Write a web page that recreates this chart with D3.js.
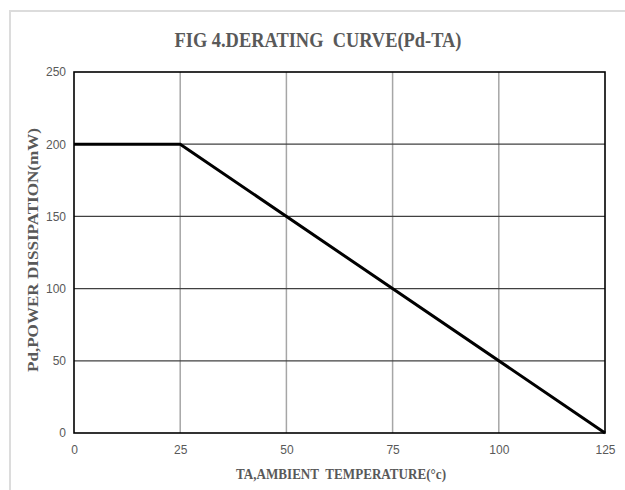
<!DOCTYPE html>
<html>
<head>
<meta charset="utf-8">
<script src="https://cdn.jsdelivr.net/npm/d3@7"></script>
<style>
  body { margin: 0; background: #fff; }
  svg { display: block; }
</style>
</head>
<body>
<svg id="chart" width="625" height="490"></svg>
<script>
// Derating curve: power dissipation vs ambient temperature
var temps  = [0, 25, 125];
var power  = [200, 200, 0];
var xTicks = [0, 25, 50, 75, 100, 125];
var yTicks = [0, 50, 100, 150, 200, 250];

var titleText  = "FIG 4.DERATING\u00a0 CURVE(Pd-TA)";
var xLabelText = "TA,AMBIENT\u00a0 TEMPERATURE(\u00b0c)";
var yLabelText = "Pd,POWER DISSIPATION(mW)";

var svg = d3.select("#chart");
// plot box ("top" is taken by window.top, so prefix these)
var plotLeft = 74, plotRight = 605, plotTop = 72, plotBottom = 433;

var x = d3.scaleLinear().domain([0, 125]).range([plotLeft, plotRight]);
var y = d3.scaleLinear().domain([0, 250]).range([plotBottom, plotTop]);

// light frame around the picture
svg.append("path")
   .attr("d", "M10,490 V11 H625")
   .attr("fill", "none")
   .attr("stroke", "#dcdcdc")
   .attr("stroke-width", 2);

// vertical grid
svg.append("g").selectAll("line")
   .data(xTicks.slice(1, -1))
   .join("line")
   .attr("x1", function (d) { return x(d); })
   .attr("x2", function (d) { return x(d); })
   .attr("y1", plotTop).attr("y2", plotBottom)
   .attr("stroke", "#a6a6a6")
   .attr("stroke-width", 1.5);

// horizontal grid
svg.append("g").selectAll("line")
   .data(yTicks.slice(1, -1))
   .join("line")
   .attr("x1", plotLeft).attr("x2", plotRight)
   .attr("y1", function (d) { return y(d); })
   .attr("y2", function (d) { return y(d); })
   .attr("stroke", "#404040")
   .attr("stroke-width", 1.2);

// plot border
svg.append("rect")
   .attr("x", plotLeft).attr("y", plotTop)
   .attr("width", plotRight - plotLeft).attr("height", plotBottom - plotTop)
   .attr("fill", "none")
   .attr("stroke", "#000")
   .attr("stroke-width", 1.6);

// axes (labels only)
var xAxis = svg.append("g")
   .attr("transform", "translate(0," + plotBottom + ")")
   .call(d3.axisBottom(x).tickValues(xTicks).tickSize(0).tickPadding(12));
var yAxis = svg.append("g")
   .attr("transform", "translate(" + plotLeft + ",0)")
   .call(d3.axisLeft(y).tickValues(yTicks).tickSize(0).tickPadding(8));

[xAxis, yAxis].forEach(function (a) {
  a.select(".domain").remove();
  a.selectAll("text")
   .attr("fill", "#595959")
   .style("font-family", "'Liberation Sans', Arial, sans-serif")
   .style("font-size", "12px");
});

// the curve
var line = d3.line()
   .x(function (d, i) { return x(temps[i]); })
   .y(function (d) { return y(d); });

svg.append("path")
   .datum(power)
   .attr("d", line)
   .attr("fill", "none")
   .attr("stroke", "#000")
   .attr("stroke-width", 3)
   .attr("stroke-linejoin", "miter");

// titles
var serif = "'Liberation Serif', 'Times New Roman', serif";

svg.append("text")
   .attr("x", 318).attr("y", 47)
   .attr("text-anchor", "middle")
   .attr("fill", "#595959")
   .attr("font-family", serif)
   .attr("font-weight", "bold")
   .attr("font-size", 21)
   .attr("textLength", 287)
   .attr("lengthAdjust", "spacingAndGlyphs")
   .text(titleText);

svg.append("text")
   .attr("x", 341).attr("y", 479)
   .attr("text-anchor", "middle")
   .attr("fill", "#595959")
   .attr("font-family", serif)
   .attr("font-weight", "bold")
   .attr("font-size", 15)
   .attr("textLength", 210)
   .attr("lengthAdjust", "spacingAndGlyphs")
   .text(xLabelText);

svg.append("text")
   .attr("transform", "translate(38,250) rotate(-90)")
   .attr("text-anchor", "middle")
   .attr("fill", "#595959")
   .attr("font-family", serif)
   .attr("font-weight", "bold")
   .attr("font-size", 15)
   .attr("textLength", 244)
   .attr("lengthAdjust", "spacingAndGlyphs")
   .text(yLabelText);
</script>
</body>
</html>
